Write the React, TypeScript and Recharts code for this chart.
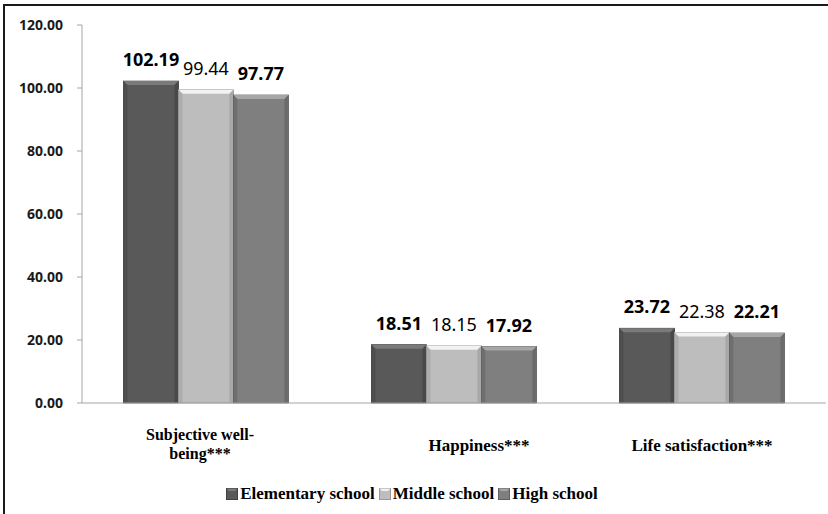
import React from 'react';
import { BarChart, Bar, XAxis, YAxis, Legend, LabelList } from 'recharts';

const categories = ['Subjective well-being***', 'Happiness***', 'Life satisfaction***'];
const elementary = [102.19, 18.51, 23.72];
const middle = [99.44, 18.15, 22.38];
const high = [97.77, 17.92, 22.21];
const yTicks = [0, 20, 40, 60, 80, 100, 120];

const seriesInfo = [
  { key: 'elementary', name: 'Elementary school', color: '#595959', light: '#7a7a7a', dark: '#404040', bold: true },
  { key: 'middle', name: 'Middle school', color: '#bdbdbd', light: '#f2f2f2', dark: '#9a9a9a', bold: false },
  { key: 'high', name: 'High school', color: '#7f7f7f', light: '#a6a6a6', dark: '#5e5e5e', bold: true },
];

const data = categories.map((category, i) => ({
  category,
  elementary: elementary[i],
  middle: middle[i],
  high: high[i],
}));

const serif = 'Liberation Serif';
const sans = 'Noto Sans';

// bevelled bar like the old office chart style
const makeBevelBar = (s: typeof seriesInfo[number]) => (props: any) => {
  const { x, y, width, height } = props;
  if (!height || height <= 0) return <g />;
  const b = Math.min(4, height / 2);
  return (
    <g>
      <rect x={x} y={y} width={width} height={height} fill={s.color} stroke={s.dark} strokeWidth={0.8} />
      <polygon
        points={`${x},${y} ${x + width},${y} ${x + width - b},${y + b} ${x + b},${y + b}`}
        fill={s.light}
      />
      <polygon
        points={`${x},${y} ${x + b},${y + b} ${x + b},${y + height} ${x},${y + height}`}
        fill={s.dark}
        opacity={0.45}
      />
      <polygon
        points={`${x + width},${y} ${x + width - b},${y + b} ${x + width - b},${y + height} ${x + width},${y + height}`}
        fill={s.dark}
        opacity={0.6}
      />
    </g>
  );
};

const CategoryTick = (props: any) => {
  const { x, y, payload } = props;
  const label: string = payload.value;
  // Excel put the middle label a bit off centre
  const shift = label === 'Happiness***' ? 25 : label.startsWith('Subjective') ? -6 : 0;
  const lines = label === 'Subjective well-being***' ? ['Subjective well-', 'being***'] : [label];
  return (
    <text
      x={x + shift}
      y={y}
      textAnchor="middle"
      fontFamily={serif}
      fontWeight="bold"
      fontSize={lines.length > 1 ? 16 : 17}
      fill="#000"
    >
      {lines.map((ln, i) => (
        <tspan key={i} x={x + shift} dy={i === 0 ? (lines.length > 1 ? 29 : 40) : 19}>
          {ln}
        </tspan>
      ))}
    </text>
  );
};

const LegendContent = () => (
  <div
    style={{
      display: 'flex',
      justifyContent: 'center',
      alignItems: 'center',
      fontFamily: serif,
      fontWeight: 700,
      fontSize: 17,
      color: '#000',
    }}
  >
    {seriesInfo.map((s) => (
      <div key={s.key} style={{ display: 'flex', alignItems: 'center', marginRight: 4 }}>
        <svg width={12} height={12} style={{ marginRight: 2 }}>
          <rect x={0.5} y={0.5} width={11} height={11} fill={s.color} stroke={s.dark} />
          <polygon points="0.5,0.5 11.5,0.5 9,3 3,3" fill={s.light} />
        </svg>
        <span>{s.name}</span>
      </div>
    ))}
  </div>
);

export default function App() {
  return (
    <div style={{ position: 'absolute', left: 0, top: 0, width: 828, height: 514, overflow: 'hidden', background: '#fff' }}>
      <BarChart
        width={828}
        height={514}
        data={data}
        margin={{ top: 25, right: 2, left: 0, bottom: 51 }}
        barCategoryGap="16.7%"
        barGap={0}
      >
        <XAxis
          dataKey="category"
          height={60}
          interval={0}
          tick={<CategoryTick />}
          tickLine={false}
          axisLine={{ stroke: '#a6a6a6' }}
        />
        <YAxis
          width={82}
          domain={[0, 120]}
          ticks={yTicks}
          tickFormatter={(v: number) => v.toFixed(2)}
          tickSize={5}
          tickMargin={14}
          tickLine={{ stroke: '#a6a6a6' }}
          axisLine={{ stroke: '#a6a6a6' }}
          tick={{ fontFamily: sans, fontWeight: 'bold', fontSize: 14, fill: '#1a1a1a' }}
        />
        <Legend
          verticalAlign="middle"
          align="center"
          content={<LegendContent />}
          wrapperStyle={{ top: 484, left: 0, width: 828 }}
        />
        {seriesInfo.map((s) => (
          <Bar
            key={s.key}
            dataKey={s.key}
            name={s.name}
            fill={s.color}
            shape={makeBevelBar(s)}
            isAnimationActive={false}
          >
            <LabelList
              dataKey={s.key}
              position="top"
              offset={15}
              formatter={(v: any) => Number(v).toFixed(2)}
              style={{ fontFamily: sans, fontWeight: s.bold ? 'bold' : 'normal', fontSize: 18, fill: '#000' }}
            />
          </Bar>
        ))}
      </BarChart>
      {/* frame lines along the top and left, open at the right and bottom */}
      <div style={{ position: 'absolute', left: 3, top: 4, width: 825, height: 2, background: '#1a1a1a' }} />
      <div style={{ position: 'absolute', left: 3, top: 4, width: 2, height: 510, background: '#1a1a1a' }} />
    </div>
  );
}
